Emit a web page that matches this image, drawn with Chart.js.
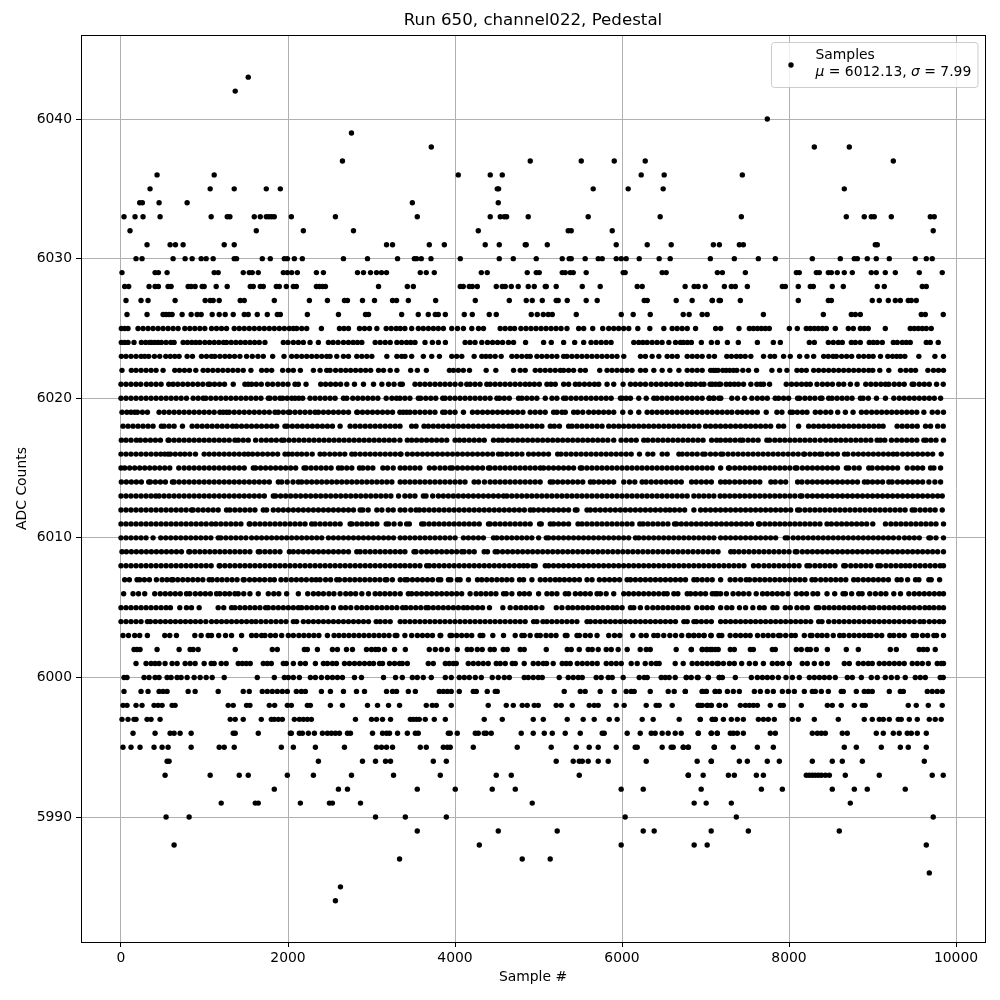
<!DOCTYPE html>
<html><head><meta charset="utf-8">
<style>html,body{margin:0;padding:0;background:#fff}canvas{display:block}</style>
<script src="https://cdn.jsdelivr.net/npm/chart.js@4"></script></head>
<body><canvas id="c" width="1000" height="1000"></canvas>
<script>
const titleText="Run 650, channel022, Pedestal";
const xLabel="Sample #";
const yLabel="ADC Counts";
const xTicks=[0,2000,4000,6000,8000,10000];
const yTicks=[5990,6000,6010,6020,6030,6040];
const legendName="Samples";
const statsMu="6012.13";
const statsSigma="7.99";

// sample numbers, one list per ADC level
const s6043=[1524];
const s6042=[1368];
const s6040=[7740];
const s6039=[2760];
const s6038=[3716,8303,8722];
const s6037=[2652,4901,5512,5907,6278,9249];
const s6036=[432,1116,4039,4422,4566,6230,6505,7441];
const s6035=[348,1068,1356,1740,1908,4506,4522,5655,6074,6493,8662];
const s6034=[224,256,456,792,3489,4518];
const s6033=[36,168,264,468,1080,1272,1304,1596,1668,1740,1772,1804,1836,2040,2568,3548,4422,4542,4590,4618,4877,5595,6457,7429,8686,8901,8985,9021,9225,9692,9739];
const s6032=[108,1620,2184,2784,4279,5356,5392,5883,9727];
const s6031=[312,588,652,744,1236,1356,3180,3252,3692,3872,4362,4530,4841,4853,5105,5931,6302,6589,7094,7166,7405,7453,9033,9057];
const s6030=[180,252,624,768,852,960,1020,1104,1356,1384,1692,1788,1956,1992,2076,2172,2664,2952,3312,3513,3540,3596,3712,4063,4530,4698,4973,5284,5368,5392,5559,5715,5763,5931,5991,6050,6206,6445,6577,7058,7345,7633,7836,8279,8614,8782,8818,8937,9045,9201,9512,9644,9715];
const s6029=[12,408,448,552,1116,1164,1464,1536,1572,1644,1944,1992,2044,2112,2340,2424,2832,2904,2988,3060,3120,3180,3584,3656,3752,4315,4386,4865,4973,5009,5284,5320,5380,5416,5571,6014,6038,6481,6529,7142,7202,7477,8088,8123,8327,8363,8471,8507,8578,8662,8758,8985,9045,9153,9273,9560,9835];
const s6028=[44,92,336,408,448,564,600,804,840,888,972,996,1140,1272,1548,1584,1668,1704,1860,1896,1980,2064,2100,2340,2376,2412,2448,3084,3429,3501,4063,4099,4171,4207,4267,4494,4566,4602,4674,4757,4877,4949,5081,5093,5212,5524,5739,6182,6242,6756,6864,6912,6996,7226,7309,7357,7501,7920,7956,8111,8255,8291,8518,8650,9057,9141,9596,9644];
const s6027=[60,240,324,648,1008,1068,1104,1176,1428,1476,1836,2256,2472,2676,2712,2892,3036,3252,3300,3441,3768,4243,4650,4853,4925,5045,5212,5236,5344,5571,5703,6266,6302,6649,6840,7080,7163,7082,7178,7417,8111,8471,8507,8997,9081,9189,9273,9333,9428,9464,9524];
const s6026=[72,312,504,540,576,612,732,840,912,960,1092,1176,1248,1344,1476,1524,1632,1752,1872,1908,2232,2604,2928,2964,3361,3560,3680,3764,3800,3884,4111,4207,4410,4494,4913,4985,5057,5117,5165,5452,5991,6134,6338,6733,6804,6960,7020,7693,8411,8746,8794,8854,9584,9632,9847];
const s6025=[4,44,84,204,264,324,384,444,504,564,624,684,764,824,884,944,1004,1084,1144,1204,1264,1356,1416,1476,1536,1596,1656,1716,1776,1836,1896,1956,2016,2064,2104,2164,2224,2400,2616,2670,2724,2856,2916,2976,3064,3176,3236,3296,3344,3400,3481,3561,3620,3681,3741,3800,3861,3961,4030,4101,4201,4281,4341,4541,4600,4661,4713,4789,4850,4910,4970,5030,5090,5150,5210,5270,5341,5481,5541,5649,5769,5841,5901,5960,6020,6081,6189,6333,6501,6601,6660,6720,6781,6881,7121,7181,7401,7525,7573,7621,7669,7716,7764,8004,8099,8207,8255,8303,8351,8399,8447,8554,8710,8770,8854,8901,8949,9153,9452,9500,9548,9596,9644,9703];
const s6024=[4,44,84,156,244,296,344,364,404,444,484,540,596,636,744,796,848,896,944,1004,1060,1116,1172,1228,1264,1320,1376,1432,1488,1544,1600,1656,1724,1944,2000,2064,2124,2184,2264,2364,2484,2540,2600,2664,2724,2780,2832,2884,3044,3104,3164,3224,3304,3361,3420,3470,3521,3641,3729,3801,3885,4121,4180,4240,4321,4389,4450,4510,4570,4640,4701,4845,5061,5153,5301,5433,5541,5629,5690,5750,5810,5869,6141,6200,6250,6301,6361,6420,6480,6561,6641,6700,6735,6783,6831,6950,7070,7142,7262,7393,7621,7812,7896,8243,8303,8471,8530,8590,8638,8746,8794,8854,8961,9009,9057,9117,9249,9296,9356,9404,9452,9644,9692,9787];
const s6023=[4,60,120,180,240,284,332,400,464,536,590,644,696,792,856,964,1024,1084,1124,1184,1244,1300,1360,1424,1504,1572,1640,1704,1816,1952,2044,2104,2164,2224,2284,2344,2404,2464,2504,2584,2664,2724,2824,2884,2944,3004,3184,3304,3361,3401,3481,3621,3721,3813,3961,4020,4081,4229,4321,4370,4421,4481,4553,4681,4740,4800,4860,4901,4981,5040,5100,5160,5220,5301,5341,5400,5460,5520,5580,5640,5700,5760,5820,5880,5940,6021,6221,6280,6361,6441,6541,6600,6661,6781,6841,6900,6960,7041,7107,7255,7310,7370,7420,7475,7543,7695,7775,7827,7935,8015,8127,8215,8295,8415,8470,8527,8567,8630,8690,8750,8835,8895,8955,9007,9095,9183,9240,9290,9335,9387,9555,9747,9850];
const s6022=[12,124,180,240,300,360,420,504,644,700,760,820,896,984,1040,1100,1160,1220,1280,1340,1400,1464,1556,1684,1744,1804,1936,2004,2064,2148,2304,2384,2464,2504,2570,2632,2692,2750,2810,2870,2930,2990,3084,3144,3224,3304,3469,3549,3657,3933,3981,4040,4100,4173,4373,4489,4701,4781,4841,4961,5020,5080,5140,5200,5261,5301,5360,5420,5501,5561,5733,5821,5880,5940,6000,6060,6120,6221,6281,6381,6481,6573,6681,6781,6840,6900,6960,7061,7121,7095,7150,7207,7247,7290,7335,7375,7447,7515,7611,7795,7887,7975,8095,8150,8207,8295,8355,8415,8475,8535,8595,8655,8715,8775,8835,8895,8955,9003,9087,9195,9335,9400,9460,9515,9663,9730,9790,9850];
const s6021=[0,60,120,180,236,304,360,420,480,572,624,680,740,800,860,920,980,1044,1064,1120,1180,1240,1344,1484,1524,1564,1620,1680,1756,1816,1880,1940,2000,2084,2124,2216,2392,2450,2510,2570,2630,2704,2796,2904,3024,3124,3204,3270,3344,3369,3521,3580,3640,3700,3761,3821,3880,3940,4001,4069,4141,4181,4240,4300,4381,4421,4480,4540,4600,4660,4720,4780,4841,4893,4950,5010,5101,5149,5201,5301,5361,5441,5489,5550,5610,5670,5721,5821,5901,6013,6101,6160,6220,6281,6349,6410,6470,6530,6590,6650,6710,6781,6829,6880,6941,6981,7081,7161,7055,7120,7180,7247,7295,7345,7395,7455,7543,7615,7660,7695,7767,7967,8030,8090,8150,8207,8255,8335,8400,8460,8520,8595,8655,8735,8815,8919,8980,9040,9100,9155,9195,9260,9320,9380,9475,9495,9560,9620,9680,9767,9847];
const s6020=[0,60,120,180,240,300,360,420,480,540,600,660,720,784,864,924,984,1016,1076,1136,1196,1256,1316,1376,1436,1496,1556,1616,1676,1764,1784,1844,1904,1936,1990,2044,2084,2130,2176,2264,2324,2384,2444,2504,2564,2664,2704,2776,2836,2896,2956,3016,3076,3176,3244,3300,3341,3400,3460,3561,3589,3650,3710,3770,3853,3881,3940,4000,4060,4120,4180,4240,4300,4360,4420,4501,4533,4590,4650,4761,4801,4860,4920,4980,5081,5161,5220,5301,5329,5390,5450,5510,5570,5630,5690,5750,5810,5870,5981,6001,6050,6101,6201,6290,6381,6421,6480,6540,6600,6660,6720,6780,6840,6900,6960,7041,7101,7160,7047,7095,7183,7315,7383,7467,7555,7620,7680,7740,7835,7875,7935,7995,8103,8127,8190,8250,8310,8375,8395,8475,8515,8575,8635,8695,8755,8855,8887,8950,9047,9155,9255,9320,9380,9440,9500,9560,9620,9680,9740,9815];
const s6019=[12,70,120,164,196,256,316,456,516,576,636,696,756,816,876,936,996,1056,1116,1184,1224,1264,1296,1356,1416,1476,1536,1596,1656,1716,1776,1844,1884,1944,2004,2024,2084,2144,2204,2264,2324,2364,2424,2484,2544,2604,2664,2724,2824,2832,2892,2952,3012,3072,3132,3192,3252,3340,3380,3421,3461,3520,3580,3640,3700,3760,3853,3881,3940,4000,4101,4209,4269,4330,4390,4450,4510,4570,4630,4690,4750,4813,4901,4960,5020,5080,5181,5221,5281,5321,5421,5469,5530,5601,5661,5720,5780,5840,5901,6009,6101,6201,6301,6360,6420,6480,6540,6600,6660,6720,6780,6840,6900,6960,7020,7080,7141,7200,7260,7315,7383,7440,7500,7560,7620,7727,7855,7915,8015,8043,8100,8160,8215,8315,8375,8440,8500,8583,8675,8767,8867,8927,8990,9050,9110,9170,9230,9290,9350,9410,9470,9530,9615,9715,9780,9850];
const s6018=[24,84,144,204,264,324,384,484,516,576,636,736,852,912,972,1032,1092,1152,1212,1272,1336,1384,1444,1504,1564,1624,1684,1744,1804,1864,1964,1992,2052,2112,2172,2232,2292,2352,2412,2472,2532,2624,2744,2804,2864,2924,2984,3044,3104,3164,3224,3284,3341,3481,3533,3629,3681,3740,3800,3860,3920,3980,4040,4100,4160,4220,4280,4340,4400,4460,4520,4580,4641,4681,4740,4800,4860,4920,4980,5040,5141,5189,5250,5361,5401,5460,5520,5580,5640,5701,5761,5841,5901,5961,6020,6080,6140,6200,6260,6320,6380,6440,6500,6560,6620,6680,6740,6800,6860,6921,7001,7060,7120,7180,7240,7300,7360,7420,7480,7540,7600,7660,7720,7780,7875,7935,8115,8235,8295,8355,8415,8475,8535,8595,8655,8715,8775,8835,8895,8955,9015,9075,9127,9295,9355,9415,9475,9535,9635,9695,9780,9847];
const s6017=[4,60,120,184,232,292,352,412,472,564,576,636,696,756,816,876,936,996,1056,1116,1176,1236,1296,1364,1404,1464,1524,1612,1680,1740,1800,1860,1924,1952,2012,2072,2132,2192,2252,2312,2372,2432,2492,2552,2612,2672,2732,2792,2852,2912,2972,3032,3092,3152,3212,3272,3340,3429,3481,3540,3600,3660,3720,3780,3840,3901,4001,4053,4110,4170,4230,4290,4350,4461,4521,4569,4630,4690,4750,4810,4870,4930,4990,5050,5110,5170,5230,5290,5350,5410,5470,5530,5590,5650,5710,5770,5830,5901,5989,6050,6110,6170,6261,6309,6370,6430,6490,6550,6610,6670,6730,6790,6850,6910,6970,7073,7133,7180,7240,7295,7355,7415,7447,7510,7570,7630,7735,7767,7830,7890,7950,8010,8070,8130,8190,8250,8310,8375,8439,8500,8560,8620,8680,8740,8800,8860,8920,8980,9055,9095,9147,9227,9290,9350,9410,9470,9530,9615,9643,9700,9760,9850];
const s6016=[0,60,120,180,240,300,360,420,476,524,564,592,650,710,764,824,892,996,1056,1116,1176,1236,1296,1356,1416,1476,1524,1576,1636,1696,1756,1816,1876,1964,2004,2052,2110,2164,2224,2290,2384,2436,2500,2560,2620,2680,2764,2804,2864,2924,2984,3044,3104,3164,3224,3284,3344,3353,3429,3490,3550,3610,3670,3730,3790,3850,3910,3970,4030,4090,4150,4210,4270,4330,4390,4450,4521,4561,4620,4680,4740,4801,4881,4940,5000,5060,5120,5229,5269,5330,5390,5450,5510,5570,5630,5690,5750,5810,5870,5930,5990,6050,6110,6209,6309,6369,6481,6541,6681,6721,6780,6840,6900,6967,6995,7060,7120,7183,7207,7270,7330,7390,7450,7510,7570,7630,7690,7750,7810,7870,7930,7990,8050,8110,8175,8187,8250,8310,8367,8395,8460,8520,8580,8663,8703,8770,8830,8890,8950,9010,9070,9130,9190,9247,9295,9360,9420,9480,9540,9600,9660,9720,9823];
const s6015=[0,44,104,164,224,284,344,404,464,524,584,692,756,816,876,936,996,1056,1116,1176,1236,1296,1356,1416,1476,1584,1612,1672,1732,1792,1852,1912,1972,2032,2092,2192,2216,2276,2336,2396,2456,2516,2604,2644,2704,2764,2856,2896,2956,3016,3136,3192,3260,3344,3400,3460,3520,3580,3693,3753,3820,3880,3941,3969,4030,4090,4150,4210,4270,4330,4401,4421,4480,4540,4600,4660,4720,4780,4840,4900,4960,5021,5061,5121,5180,5240,5300,5360,5420,5501,5521,5580,5640,5700,5760,5820,5880,5940,6000,6060,6120,6180,6240,6300,6360,6420,6480,6540,6600,6660,6720,6780,6840,6900,6960,7020,7080,7181,7275,7287,7350,7410,7470,7530,7590,7650,7710,7770,7830,7890,7950,8010,8075,8095,8160,8220,8280,8340,8400,8460,8520,8580,8687,8715,8780,8840,8955,8995,9060,9120,9180,9240,9300,9415,9483,9540,9600,9695,9735,9815];
const s6014=[4,64,124,184,244,332,352,412,472,532,616,636,696,756,816,876,936,996,1056,1116,1176,1236,1296,1356,1416,1476,1536,1596,1656,1716,1776,1884,1924,1990,2060,2124,2164,2224,2284,2344,2404,2464,2524,2584,2644,2704,2764,2824,2884,2944,3004,3064,3124,3184,3244,3344,3400,3460,3520,3580,3640,3700,3760,3820,3880,3940,4000,4060,4120,4229,4281,4353,4421,4480,4540,4600,4660,4720,4780,4840,4900,4960,5020,5141,5173,5230,5290,5350,5410,5470,5530,5621,5661,5721,5780,5840,5900,6021,6089,6153,6241,6289,6350,6410,6470,6530,6590,6650,6710,6833,6889,6950,7010,7070,7181,7235,7287,7350,7410,7470,7530,7590,7650,7783,7835,7900,7960,8103,8155,8220,8280,8340,8400,8460,8520,8580,8640,8700,8760,8820,8903,8943,9000,9060,9120,9195,9235,9300,9360,9420,9480,9540,9600,9675,9747,9815];
const s6013=[0,60,120,180,240,300,360,416,456,516,576,636,696,756,816,876,936,996,1056,1116,1176,1236,1296,1356,1416,1476,1536,1596,1656,1716,1824,1852,1912,1972,2032,2092,2152,2212,2272,2332,2392,2452,2512,2572,2632,2692,2752,2812,2872,2932,2992,3052,3112,3172,3232,3324,3400,3460,3520,3621,3653,3733,3801,3860,3920,3980,4040,4100,4160,4220,4280,4340,4400,4460,4520,4581,4621,4680,4740,4800,4860,4920,4980,5040,5100,5160,5220,5280,5340,5400,5460,5520,5580,5640,5700,5760,5820,5880,5940,6000,6060,6120,6180,6240,6300,6360,6420,6480,6540,6600,6660,6720,6780,6861,6921,6980,7040,7100,7175,7230,7290,7350,7410,7470,7530,7590,7650,7710,7770,7830,7890,7950,8010,8070,8135,8155,8220,8280,8340,8400,8460,8520,8580,8640,8700,8760,8820,8880,8940,9000,9060,9120,9180,9240,9300,9360,9420,9480,9540,9600,9660,9720,9780,9835];
const s6012=[0,60,120,180,240,300,360,420,480,540,600,660,720,780,844,864,924,984,1044,1104,1164,1264,1304,1364,1424,1484,1544,1604,1704,1744,1824,1884,1944,2004,2064,2124,2184,2244,2304,2364,2424,2484,2544,2604,2664,2724,2784,2864,2896,2960,3064,3124,3200,3260,3344,3400,3470,3533,3573,3630,3690,3750,3810,3870,3930,3990,4050,4110,4170,4230,4290,4350,4410,4470,4530,4590,4650,4710,4770,4830,4901,4941,5000,5060,5120,5180,5240,5300,5360,5441,5461,5581,5621,5680,5740,5800,5860,5920,5980,6040,6100,6160,6220,6280,6340,6400,6460,6521,6573,6630,6690,6750,6861,6941,7000,7060,7120,7180,7240,7300,7360,7420,7480,7540,7600,7660,7720,7780,7840,7900,7960,8020,8103,8127,8190,8250,8310,8370,8430,8490,8550,8610,8670,8730,8790,8850,8910,8970,9030,9090,9150,9210,9270,9330,9390,9475,9507,9570,9630,9690,9750,9835];
const s6011=[0,60,120,180,240,300,360,420,480,540,600,660,720,780,840,900,960,1020,1084,1136,1196,1256,1316,1376,1436,1536,1544,1604,1664,1724,1784,1844,1904,1964,2024,2084,2144,2204,2284,2324,2384,2444,2504,2564,2624,2744,2764,2824,2884,2944,3004,3064,3176,3204,3270,3344,3421,3453,3601,3629,3690,3750,3810,3870,3930,3990,4050,4110,4170,4230,4290,4401,4421,4480,4540,4600,4660,4720,4780,4840,4900,5013,5033,5141,5181,5240,5300,5360,5473,5521,5580,5640,5700,5760,5820,5880,5940,6000,6060,6120,6213,6253,6310,6370,6430,6490,6550,6629,6653,6710,6770,6830,6890,6950,7010,7070,7130,7190,7250,7310,7370,7430,7490,7550,7635,7647,7710,7770,7830,7890,7950,8010,8070,8130,8190,8250,8310,8370,8455,8507,8570,8630,8690,8750,8810,8870,8930,9003,9155,9220,9280,9340,9400,9460,9520,9580,9640,9700,9760,9850];
const s6010=[0,60,120,180,240,300,384,476,536,596,656,716,776,836,896,956,1016,1076,1164,1196,1256,1316,1376,1436,1496,1564,1624,1684,1744,1804,1864,1924,1984,2044,2104,2164,2224,2284,2344,2404,2484,2544,2604,2664,2724,2784,2844,2904,2964,3024,3084,3144,3204,3264,3344,3400,3460,3520,3580,3640,3700,3760,3820,3880,3940,4001,4101,4160,4220,4280,4340,4461,4501,4560,4620,4680,4740,4800,4860,4920,5001,5093,5121,5180,5240,5300,5360,5420,5480,5540,5600,5660,5720,5780,5840,5900,5960,6020,6080,6161,6201,6260,6320,6380,6440,6500,6560,6620,6680,6740,6800,6860,6920,6980,7040,7100,7181,7240,7300,7360,7420,7480,7540,7600,7660,7720,7780,7840,7955,7983,8050,8110,8170,8230,8290,8350,8410,8470,8530,8590,8650,8710,8770,8830,8890,8950,9010,9070,9130,9190,9250,9315,9383,9440,9500,9560,9675,9695,9760,9850];
const s6009=[12,64,124,184,244,304,364,424,484,544,604,664,724,812,824,884,944,1004,1064,1124,1184,1244,1304,1364,1424,1484,1544,1644,1664,1724,1784,1844,1904,2016,2064,2124,2184,2244,2304,2364,2424,2484,2544,2604,2664,2724,2824,2864,2924,2984,3044,3104,3164,3224,3284,3344,3400,3509,3533,3600,3660,3720,3780,3840,3900,3960,4020,4081,4109,4170,4230,4349,4389,4481,4509,4570,4630,4690,4750,4810,4870,4930,4990,5050,5110,5170,5230,5290,5350,5410,5470,5530,5590,5650,5710,5770,5830,5890,5950,6010,6070,6130,6190,6250,6310,6370,6430,6490,6550,6610,6670,6730,6790,6850,6910,6970,7030,7090,7150,7303,7343,7400,7460,7520,7580,7640,7700,7760,7820,7880,7940,8000,8075,8095,8160,8220,8280,8340,8400,8460,8520,8580,8640,8700,8760,8820,8880,8940,9000,9060,9120,9180,9240,9300,9360,9420,9480,9540,9600,9660,9720,9780,9850];
const s6008=[0,60,120,180,240,300,360,420,480,540,600,660,720,780,840,900,960,1020,1080,1176,1184,1244,1304,1364,1424,1484,1544,1604,1664,1724,1784,1844,1904,1964,2024,2084,2144,2204,2264,2324,2384,2444,2504,2564,2624,2684,2744,2804,2864,2924,2984,3044,3104,3164,3224,3284,3344,3400,3460,3520,3580,3661,3693,3750,3810,3870,3930,3990,4050,4110,4170,4230,4290,4350,4410,4470,4530,4590,4650,4710,4770,4821,4869,4933,4961,5081,5121,5180,5240,5300,5360,5420,5480,5540,5600,5660,5720,5780,5840,5900,5960,6020,6080,6140,6200,6260,6320,6380,6440,6500,6560,6620,6680,6740,6800,6860,6920,6980,7040,7100,7160,7220,7280,7340,7400,7460,7575,7635,7700,7760,7820,7880,7940,8000,8060,8120,8215,8247,8310,8370,8430,8490,8550,8655,8675,8740,8800,8860,8920,8980,9063,9095,9160,9220,9280,9340,9395,9447,9510,9570,9630,9690,9750,9810,9850];
const s6007=[44,100,192,224,280,340,424,492,550,604,624,680,740,800,860,920,980,1056,1092,1152,1210,1270,1330,1390,1464,1476,1540,1600,1660,1720,1784,1836,1916,1976,2040,2100,2160,2220,2284,2336,2384,2450,2510,2584,2616,2680,2740,2800,2860,2920,2980,3040,3100,3164,3184,3250,3344,3401,3429,3490,3550,3610,3670,3730,3801,3829,3921,3949,4029,4061,4161,4269,4321,4380,4440,4501,4561,4620,4680,4773,4821,4921,5021,5080,5140,5201,5253,5310,5370,5430,5490,5581,5641,5729,5790,5850,5910,5970,6061,6101,6160,6220,6280,6340,6400,6460,6520,6580,6640,6700,6760,6861,6901,6960,7020,7080,7181,7295,7355,7420,7487,7527,7590,7650,7710,7770,7830,7890,7950,8010,8070,8130,8190,8275,8315,8380,8440,8500,8560,8620,8680,8775,8827,8890,8950,9010,9070,9130,9190,9295,9343,9420,9515,9555,9675,9703,9803];
const s6006=[32,144,210,284,404,470,530,590,650,710,784,824,890,950,1010,1070,1144,1184,1244,1300,1364,1404,1470,1544,1644,1764,1830,1890,1984,2124,2236,2304,2364,2424,2490,2550,2624,2692,2750,2810,2884,2964,3044,3100,3160,3220,3280,3344,3441,3481,3540,3600,3660,3720,3780,3840,3900,3960,4020,4080,4181,4253,4310,4370,4430,4490,4581,4613,4681,4773,4830,4890,5001,5101,5160,5220,5321,5361,5441,5501,5560,5620,5701,5741,5810,5901,6021,6080,6140,6200,6260,6320,6380,6440,6501,6541,6621,6669,6781,6821,6880,6941,7000,7081,7141,7115,7180,7250,7330,7395,7455,7520,7607,7683,7740,7800,7860,7920,7987,8087,8150,8210,8287,8343,8455,8547,8647,8675,8750,8835,8875,8967,9035,9100,9160,9255,9335,9435,9500,9560,9620,9680,9740,9800,9850];
const s6005=[0,60,120,180,240,300,360,420,480,540,592,704,784,844,936,1164,1230,1324,1364,1424,1484,1544,1604,1664,1732,1764,1824,1884,1944,2004,2064,2124,2164,2224,2284,2344,2404,2464,2544,2632,2690,2752,2824,2884,2944,3004,3064,3124,3184,3244,3304,3373,3413,3470,3530,3590,3653,3681,3740,3800,3860,3920,3980,4040,4101,4149,4210,4270,4330,4413,4573,4661,4729,4790,4850,4910,4970,5041,5213,5280,5353,5409,5470,5530,5590,5650,5710,5770,5830,5890,5941,6001,6101,6141,6220,6301,6369,6429,6490,6550,6610,6670,6730,6790,6893,6961,7020,7080,7181,7255,7315,7407,7480,7567,7647,7703,7807,7855,7955,8015,8095,8160,8220,8327,8355,8420,8480,8540,8600,8660,8720,8780,8840,8900,8967,9015,9080,9140,9200,9260,9320,9380,9440,9500,9563,9627,9680,9735,9795,9850];
const s6004=[0,60,120,180,240,316,352,412,472,532,592,652,712,772,832,892,952,1016,1084,1144,1204,1264,1324,1384,1444,1504,1564,1616,1676,1736,1796,1856,1916,1976,2064,2104,2184,2244,2304,2364,2424,2484,2544,2604,2664,2724,2784,2844,2904,2964,3056,3104,3164,3224,3344,3400,3460,3520,3580,3640,3700,3760,3820,3880,3940,4000,4060,4120,4180,4240,4300,4360,4420,4480,4540,4600,4661,4721,4780,4840,4941,4981,5053,5101,5160,5220,5280,5340,5400,5460,5581,5621,5680,5740,5800,5860,5920,5980,6040,6100,6160,6220,6280,6340,6400,6460,6520,6580,6640,6741,6781,6861,6893,6950,7010,7070,7181,7240,7300,7360,7420,7480,7540,7600,7660,7720,7780,7840,7900,7960,8020,8080,8140,8200,8260,8355,8395,8475,8540,8600,8660,8720,8780,8840,8900,8960,9020,9080,9140,9200,9260,9320,9380,9440,9500,9567,9615,9680,9740,9800,9850];
const s6003=[24,90,164,224,316,524,584,664,884,960,1044,1084,1170,1252,1324,1444,1564,1620,1684,1724,1790,1850,1924,2004,2064,2130,2190,2250,2310,2370,2472,2552,2610,2670,2730,2790,2850,2910,2970,3030,3090,3150,3210,3284,3304,3400,3481,3549,3610,3670,3730,3821,3829,3941,3961,4020,4080,4140,4200,4301,4333,4453,4581,4721,4801,4829,4900,4981,5021,5090,5150,5210,5321,5341,5461,5489,5560,5620,5701,5841,5910,5973,6129,6229,6290,6381,6429,6500,6573,6641,6801,6860,6920,6981,7069,7161,6715,6795,6860,6983,7063,7195,7295,7360,7420,7480,7535,7623,7690,7750,7810,7875,7895,7960,8027,8075,8183,8255,8275,8340,8395,8455,8530,8607,8655,8720,8780,8840,8900,8955,8983,9050,9110,9207,9255,9320,9380,9487,9527,9600,9660,9735,9767,9850];
const s6002=[156,192,228,432,696,828,864,924,1368,1812,1872,2196,2232,2352,2532,2592,2700,2772,2940,3000,3048,3084,3156,3276,3405,3692,3764,3836,3908,4027,4147,4195,4267,4326,4422,4470,4578,4626,4781,4829,5093,5344,5392,5488,5595,5643,5715,5811,5871,5954,6062,6218,6290,6338,6649,6829,6960,7020,7080,7152,6831,6962,7010,7058,7118,7297,7345,7537,7573,7800,7836,8088,8147,8219,8255,8327,8459,8686,8830,9213,9285,9560,9608,9656,9751];
const s6001=[180,300,360,408,456,528,612,672,768,828,888,996,1080,1116,1200,1260,1404,1452,1500,1548,1704,1752,1800,1944,1980,2064,2148,2208,2328,2424,2472,2532,2580,2676,2736,2796,2856,2916,2976,3024,3096,3132,3216,3276,3336,3369,3429,3680,3740,3884,3931,3979,4015,4159,4219,4279,4338,4398,4494,4542,4602,4686,4722,4829,4937,4997,5057,5097,5176,5284,5332,5380,5464,5524,5583,5643,5703,5811,5871,5931,5991,6110,6182,6278,6350,6409,6445,6637,6733,6840,6900,6960,7020,7080,7139,7154,7214,7286,7345,7433,7525,7597,7693,7800,7860,7920,8004,8159,8219,8303,8387,8459,8662,8722,8830,8890,8949,8997,9081,9141,9201,9261,9320,9380,9476,9536,9596,9668,9775,9823,9850];
const s6000=[36,72,276,336,408,456,552,600,672,720,792,876,948,1020,1092,1236,1632,1836,1956,2004,2064,2136,2268,2328,2400,2472,2532,2592,2652,2796,2880,3144,3288,3369,3489,3548,3620,3716,3884,3955,4051,4111,4171,4243,4315,4446,4518,4590,4650,4829,4877,4937,4997,5045,5248,5356,5416,5476,5524,5691,5751,5835,5883,6014,6206,6266,6302,6469,6517,6565,6637,6769,6829,6912,7032,7163,6771,6902,7034,7166,7202,7357,7549,7621,7681,7740,7800,7872,7964,8040,8123,8243,8303,8363,8423,8483,8554,8698,8758,8866,8985,9057,9153,9225,9296,9392,9512,9572,9632,9811,9847];
const s5999=[36,240,324,456,504,552,804,888,1164,1464,1536,1692,1752,1812,1872,1932,1992,2100,2160,2208,2400,2508,2664,2820,2916,3180,3252,3300,3441,3525,3812,3860,3908,3955,4051,4219,4255,4386,4482,4506,5308,5500,5559,5739,5907,6050,6110,6146,6338,6553,6625,6757,6960,7008,7115,6759,6962,7010,7118,7166,7262,7333,7405,7585,7657,7740,7812,7920,7992,8064,8183,8279,8315,8387,8471,8626,8650,8806,8901,8949,8997,9201,9333,9369,9656,9715,9775,9835];
const s5998=[24,72,180,252,396,444,492,612,648,1284,1344,1504,1544,1776,1840,1992,2040,2232,2268,2508,2652,2952,3072,3204,3336,3656,3728,3776,3955,4398,4614,4698,4805,4865,4949,4997,5212,5272,5404,5607,5667,5715,5931,6026,6290,6409,6445,6601,6912,6936,7020,7068,7163,6914,6962,7022,7070,7166,7238,7417,7477,7525,7573,7621,7776,7896,7932,8147,8459,8518,8626,8782,8878,8913,9428,9524,9668,9835];
const s5997=[12,84,156,180,312,360,468,1308,1368,1464,1680,1800,1836,1884,1932,2076,2136,2184,2232,2280,2808,3000,3060,3132,3228,3465,3501,3537,3572,3644,3752,3884,4350,4566,4937,5057,5344,5535,5667,5847,5942,6242,6373,6685,6936,7080,7115,6938,7082,7118,7214,7309,7381,7453,7633,7693,7752,7824,8040,8111,8303,8590,8901,8997,9081,9129,9201,9308,9344,9440,9536,9680,9751,9823];
const s5996=[144,408,588,636,708,840,1344,1368,1644,2028,2040,2136,2172,2244,2316,2412,2472,2520,2568,2616,2712,2748,3012,3132,3180,3216,3312,3429,3525,3560,3920,3943,4027,4243,4279,4350,4374,4434,4793,4937,5069,5165,5320,5500,5763,5787,6062,6218,6350,6397,6481,6553,6637,6709,6912,7068,7139,6914,7070,7142,7297,7333,7381,7453,7776,7836,8279,8339,8387,8435,8638,8698,9045,9129,9249,9320,9416,9464,9536,9644];
const s5995=[24,120,228,396,492,564,840,1176,1236,1356,1920,2064,2328,2676,3060,3120,3180,3252,3584,3656,3860,3908,3943,4219,4745,5152,5452,5607,5715,5931,6158,6182,6481,6589,6613,6733,6792,7104,6735,6795,7106,7333,7621,7812,8662,8806,9105,9333,9428,9644];
const s5994=[552,576,2364,2892,3048,3168,3228,3740,3896,5212,5416,5488,5524,5595,5715,5835,6290,6900,7068,7070,7405,7501,7740,7884,8279,8518,8638,8878,9620];
const s5993=[528,1068,1416,1524,1992,2304,2760,3264,3824,4494,4674,5488,6792,6972,6795,7274,7345,7609,7693,8207,8243,8279,8315,8351,8387,8435,8483,8674,9081,9715,9847];
const s5992=[1836,2604,2712,3548,4003,4446,4722,5990,6254,6948,7669,7920,8518,8782,8937,9392];
const s5991=[1200,1608,1644,2148,2496,2532,2868,4925,6864,7008,7309,8734];
const s5990=[540,816,3048,3405,3896,6038,7369,9727];
const s5989=[3548,4518,5224,6254,6385,7068,7513,8602];
const s5988=[636,4291,5990,6864,7020,9644];
const s5987=[3336,4805,5140];
const s5986=[9680];
const s5985=[2628];
const s5984=[2568];

const levels={6043:s6043,6042:s6042,6040:s6040,6039:s6039,6038:s6038,6037:s6037,6036:s6036,6035:s6035,6034:s6034,6033:s6033,6032:s6032,6031:s6031,6030:s6030,6029:s6029,6028:s6028,6027:s6027,6026:s6026,6025:s6025,6024:s6024,6023:s6023,6022:s6022,6021:s6021,6020:s6020,6019:s6019,6018:s6018,6017:s6017,6016:s6016,6015:s6015,6014:s6014,6013:s6013,6012:s6012,6011:s6011,6010:s6010,6009:s6009,6008:s6008,6007:s6007,6006:s6006,6005:s6005,6004:s6004,6003:s6003,6002:s6002,6001:s6001,6000:s6000,5999:s5999,5998:s5998,5997:s5997,5996:s5996,5995:s5995,5994:s5994,5993:s5993,5992:s5992,5991:s5991,5990:s5990,5989:s5989,5988:s5988,5987:s5987,5986:s5986,5985:s5985,5984:s5984};
const points=[];
for(const lv of Object.keys(levels)){for(const s of levels[lv]){points.push({x:s,y:+lv});}}

const F='"DejaVu Sans"';
const framePlugin={id:'frame',afterDraw(ch){
  const a=ch.chartArea,c=ch.ctx;
  c.save();
  c.strokeStyle='#000';c.lineWidth=1;
  c.strokeRect(Math.round(a.left)+.5,Math.round(a.top)+.5,Math.round(a.right-a.left),Math.round(a.bottom-a.top));
  // legend box
  const bx=771.5,by=42.5,bw=206.5,bh=45;
  c.beginPath();c.roundRect(bx,by,bw,bh,3);
  c.fillStyle='rgba(255,255,255,0.8)';c.fill();
  c.strokeStyle='#cccccc';c.stroke();
  c.fillStyle='#000';
  c.beginPath();c.arc(791,65,2.7,0,Math.PI*2);c.fill();
  c.textBaseline='alphabetic';c.textAlign='left';
  c.font='13.9px '+F;
  c.fillText(legendName,815.5,59);
  const parts=[['μ',1],[' = '+statsMu+', ',0],['σ',1],[' = '+statsSigma,0]];
  let x=815.5;
  for(const [t,it] of parts){c.font=(it?'italic ':'')+'13.9px '+F;c.fillText(t,x,76);x+=c.measureText(t).width;}
  c.restore();
}};
new Chart(document.getElementById('c'),{
  type:'scatter',
  data:{datasets:[{label:legendName,data:points,backgroundColor:'#000',borderColor:'#000',pointRadius:2.7,pointBorderWidth:0,pointHoverRadius:2.7}]},
  options:{
    responsive:false,animation:false,devicePixelRatio:1,
    layout:{padding:{left:0,right:15,top:0,bottom:0}},
    plugins:{
      legend:{display:false},tooltip:{enabled:false},
      title:{display:true,text:titleText,fullSize:false,color:'#000',font:{family:F,size:16.67,weight:'normal',lineHeight:1.2},padding:{top:11,bottom:4}}
    },
    scales:{
      x:{type:'linear',min:-479,max:10347,
        afterBuildTicks(s){s.ticks=xTicks.map(v=>({value:v}));},
        afterFit(s){s.height=58;},
        grid:{color:'#b0b0b0',lineWidth:1,tickColor:'#000',tickLength:5,drawTicks:true},
        border:{display:false},
        ticks:{color:'#000',font:{family:F,size:13.9},padding:3,maxRotation:0,autoSkip:false,callback:v=>String(v)},
        title:{display:true,text:xLabel,color:'#000',font:{family:F,size:13.9},padding:{top:4,bottom:14}}
      },
      y:{type:'linear',min:5981.05,max:6046.02,
        afterBuildTicks(s){s.ticks=yTicks.map(v=>({value:v}));},
        afterFit(s){s.width=81;},
        grid:{color:'#b0b0b0',lineWidth:1,tickColor:'#000',tickLength:5,drawTicks:true},
        border:{display:false},
        ticks:{color:'#000',font:{family:F,size:13.9},padding:4,autoSkip:false,callback:v=>String(v)},
        title:{display:true,text:yLabel,color:'#000',font:{family:F,size:13.9},padding:{top:14,bottom:0}}
      }
    }
  },
  plugins:[framePlugin]
});
</script></body></html>
